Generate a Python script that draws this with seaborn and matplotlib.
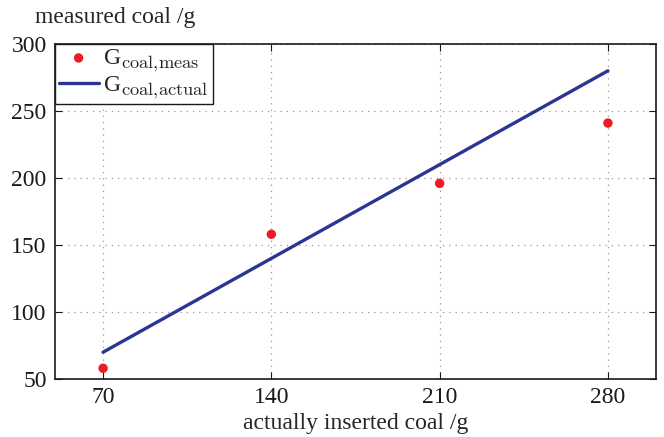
import matplotlib
matplotlib.use("Agg")
import matplotlib.pyplot as plt
import matplotlib._mathtext as _mt
import seaborn as sns
import pandas as pd

inserted = [70, 140, 210, 280]
measured = [58, 158, 196, 241]
actual = [70, 140, 210, 280]
x_ticks = [70, 140, 210, 280]
y_ticks = [50, 100, 150, 200, 250, 300]

_mt.SHRINK_FACTOR = 0.78

sns.set_style("ticks")
plt.rcParams['font.family'] = ['Liberation Serif', 'DejaVu Serif']
plt.rcParams['mathtext.fontset'] = 'cm'

df = pd.DataFrame({"inserted": inserted, "measured": measured, "actual": actual})

fig = plt.figure(figsize=(6.64, 4.37), dpi=100)
ax = fig.add_axes([55/664, 1-379/437, (656-55)/664, (379-44)/437])

sns.scatterplot(data=df, x="inserted", y="measured", ax=ax, color="#ec1c24",
                s=46, edgecolor="none", label=r"G$_{\mathrm{coal{,}meas}}$", zorder=3)
sns.lineplot(data=df, x="inserted", y="actual", ax=ax, color="#2b3592",
             linewidth=2.4, label=r"G$_{\mathrm{coal{,}actual}}$", zorder=2)

ax.set_xlim(50, 300)
ax.set_ylim(50, 300)
ax.set_xticks(x_ticks)
ax.set_yticks(y_ticks)
ax.grid(True, linestyle=(0, (1, 4)), color="#999999", linewidth=0.9)
ax.tick_params(direction="in", length=5, width=0.8, top=True, right=True,
               labelsize=17, colors="#1a1a1a", pad=6)
for s in ax.spines.values():
    s.set_linewidth(1.2)
    s.set_color("#1a1a1a")

ax.set_xlabel("actually inserted coal /g", fontsize=17, labelpad=3)
ax.set_ylabel("")
fig.text(35/664, 1-18/437, "measured coal /g", fontsize=17, ha="left", va="center")

leg = ax.legend(loc="upper left", fontsize=17, frameon=True, fancybox=False,
                borderaxespad=0, handlelength=1.7, handletextpad=0.2,
                borderpad=0.15, labelspacing=0.05)
leg.get_frame().set_edgecolor("#1a1a1a")
leg.get_frame().set_linewidth(1.0)
leg.get_frame().set_alpha(1)

fig.savefig("out.png", dpi=100)
